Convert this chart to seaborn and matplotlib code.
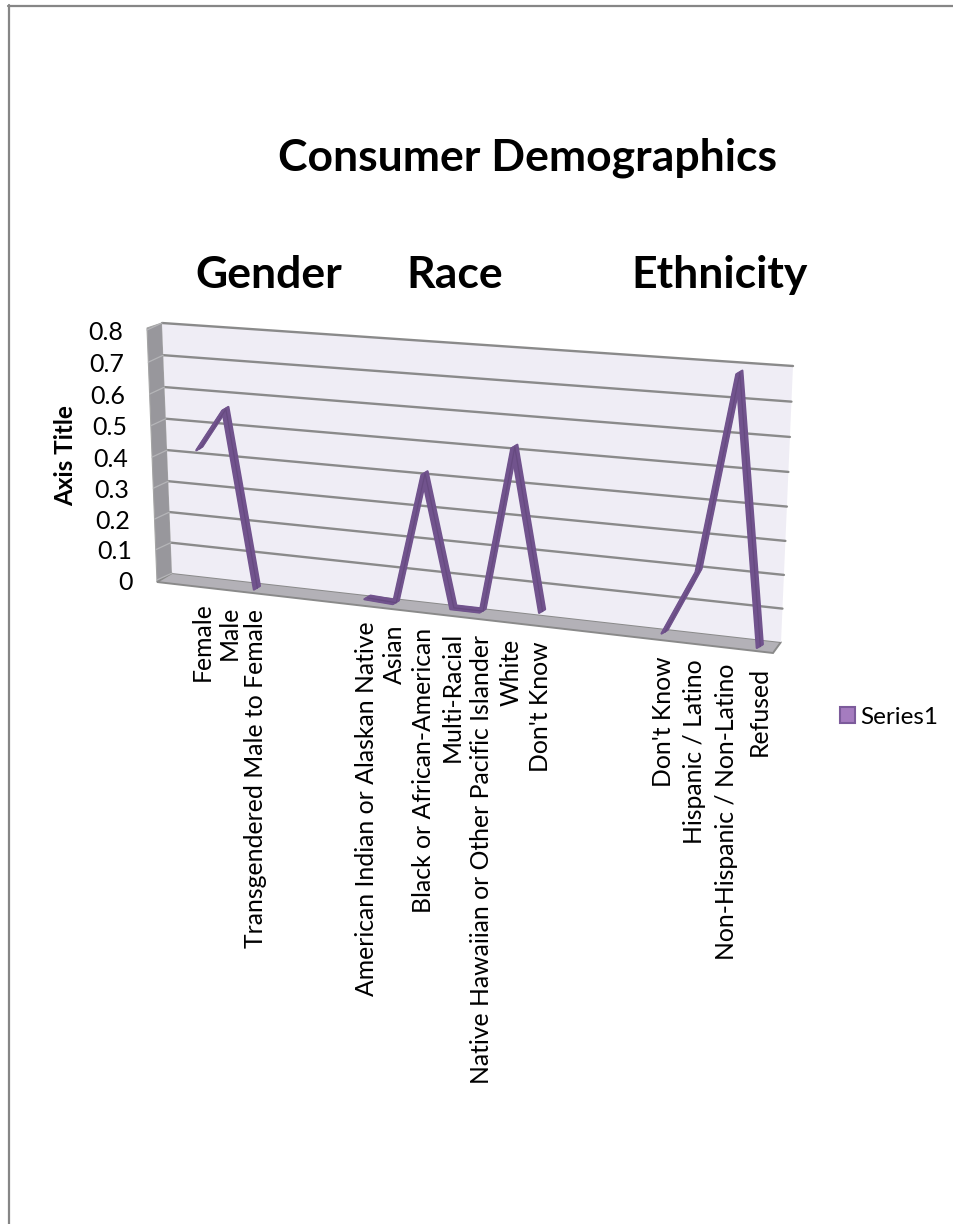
import numpy as np
import pandas as pd
import matplotlib
matplotlib.use('Agg')
import matplotlib.pyplot as plt
import seaborn as sns
from matplotlib.lines import Line2D
from matplotlib.patches import Patch, Polygon
from matplotlib.transforms import Affine2D, IdentityTransform, Transform

# values, None = empty slot between the three groups
categories = ['Female', 'Male', 'Transgendered Male to Female', '', '', '',
              'American Indian or Alaskan Native', 'Asian', 'Black or African-American',
              'Multi-Racial', 'Native Hawaiian or Other Pacific Islander', 'White', "Don't Know",
              '', '', '', "Don't Know", 'Hispanic / Latino', 'Non-Hispanic / Non-Latino', 'Refused']
values = [0.425, 0.556, 0.0, None, None, None,
          0.01, 0.005, 0.413, 0.01, 0.01, 0.516, 0.03,
          None, None, None, 0.01, 0.203, 0.778, 0.0]
groups = ['Gender'] * 6 + ['Race'] * 10 + ['Ethnicity'] * 4
y_ticks = [0, 0.1, 0.2, 0.3, 0.4, 0.5, 0.6, 0.7, 0.8]
y_tick_labels = ['0', '0.1', '0.2', '0.3', '0.4', '0.5', '0.6', '0.7', '0.8']

W, H = 954, 1224
LINE = '#71538d'
GRID = '#8a8a8a'

sns.set_theme(style='white')
plt.rcParams['font.family'] = ['Lato', 'DejaVu Sans']


class Plane(Transform):
    # unit square -> four pixel corners (perspective of the excel 3d chart)
    input_dims = 2
    output_dims = 2
    is_affine = False

    def __init__(self, bl, br, tl, tr):
        super().__init__()
        src = [(0, 0), (1, 0), (0, 1), (1, 1)]
        a, b = [], []
        for (u, v), (x, y) in zip(src, [bl, br, tl, tr]):
            a.append([u, v, 1, 0, 0, 0, -u * x, -v * x])
            a.append([0, 0, 0, u, v, 1, -u * y, -v * y])
            b += [x, y]
        self.m = np.append(np.linalg.solve(np.array(a, float), np.array(b, float)), 1).reshape(3, 3)

    def transform_non_affine(self, values):
        pts = np.column_stack([values, np.ones(len(values))]) @ self.m.T
        return pts[:, :2] / pts[:, 2:]


flip = Affine2D().scale(1, -1).translate(0, H)


def shift(dx, dy):
    # dy counted downwards like the pixel coordinates
    return Affine2D().translate(dx, -dy)


df = pd.DataFrame({'cat': categories, 'pos': np.arange(len(categories)),
                   'value': values, 'group': groups}).dropna(subset=['value'])

fig = plt.figure(figsize=(W / 100, H / 100), dpi=100)
ax = fig.add_axes([0, 0, 1, 1])
ax.set_xlim(-0.5, len(categories) - 0.5)
ax.set_ylim(0, 0.8)
ax.autoscale(False)
ax.axis('off')

wall = ax.transLimits + Plane((172, 573), (781, 642), (162, 323), (793, 366)) + flip
ribbon = ax.transLimits + Plane((190, 580), (776, 648), (182, 326), (790, 368)) + flip

# page border
for xs, ys in [((9, 9), (5, H)), ((8, W), (5.5, 5.5))]:
    fig.add_artist(Line2D(xs, ys, transform=flip, color='#868686', lw=1.6))

# walls and floor
ax.add_patch(Polygon([(157, 582), (147, 328), (162, 323), (172, 573)], transform=flip,
                     fc='#98979c', ec='#a5a5a5', lw=0.8, zorder=1))
ax.add_patch(Polygon([(157, 582), (172, 573), (781, 642), (773, 653)], transform=flip,
                     fc='#b3b1b7', ec=GRID, lw=1.4, zorder=1))
ax.add_patch(Polygon([(-0.5, 0), (19.5, 0), (19.5, 0.8), (-0.5, 0.8)], transform=wall,
                     fc='#efedf5', ec='none', zorder=1))

for v, lab in zip(y_ticks, y_tick_labels):
    if v > 0:
        ax.plot([-0.5, 19.5], [v, v], transform=wall, color=GRID, lw=1.7, zorder=2)
    px, py = wall.transform((-0.5, v))
    ax.plot([px, px - 15], [py, py - 7], transform=IdentityTransform(), color='#b5b5b8', lw=0.9, zorder=2)
    ax.text(-0.5, v, lab, transform=wall + shift(-39, 9), ha='right', va='center', fontsize=18, color='black')

# 3d ribbon = same line drawn a few times along the depth direction
for off in np.linspace(-1, 1, 9):
    sns.lineplot(data=df, x='pos', y='value', units='group', estimator=None, color=LINE,
                 lw=1.6, legend=False, ax=ax, clip_on=False, zorder=3,
                 transform=ribbon + shift(3.0 * off, -1.8 * off))
# darker side of the ribbon
sns.lineplot(data=df, x='pos', y='value', units='group', estimator=None, color='#664a80',
             lw=0.9, legend=False, ax=ax, clip_on=False, zorder=3, transform=ribbon + shift(0.5, 0.5))
ax.set_xlabel('')
ax.set_ylabel('')

# category labels hang below the front edge
for i, lab in enumerate(categories):
    if lab:
        ax.text(i, 0, lab, transform=ribbon + shift(-1, 21), rotation=90, ha='center', va='top',
                fontsize=17.8, color='black')

ax.text(528, 158, 'Consumer Demographics', transform=flip, ha='center', va='center',
        fontsize=32, fontweight='bold', color='black')
for x, lab in zip([269, 455, 720], ['Gender', 'Race', 'Ethnicity']):
    ax.text(x, 275, lab, transform=flip, ha='center', va='center', fontsize=32, fontweight='bold', color='black')
ax.text(66, 456, 'Axis Title', transform=flip, rotation=90, ha='center', va='center',
        fontsize=17.5, fontweight='bold', color='black')

handle = Patch(fc='#a57cbf', ec='#7c5b9b', lw=1.5, label='Series1')
ax.legend(handles=[handle], loc='center left', bbox_to_anchor=(840, 717), bbox_transform=flip,
          frameon=False, fontsize=17.5, labelcolor='black', handlelength=0.62, handleheight=0.62,
          handletextpad=0.2, borderpad=0, borderaxespad=0)

fig.savefig('out.png', dpi=100)
